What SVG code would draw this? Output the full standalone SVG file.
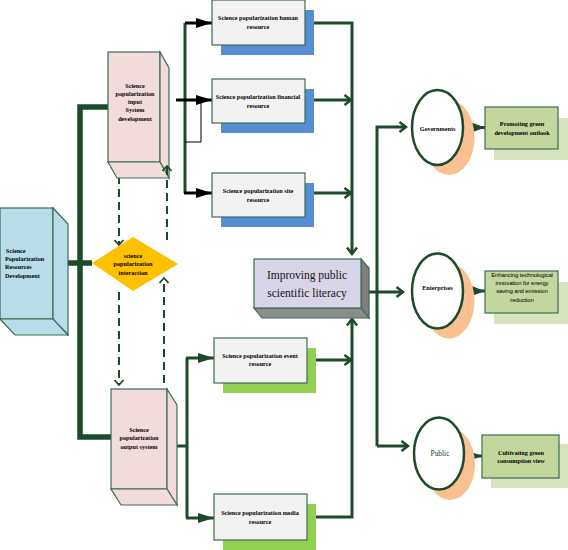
<svg xmlns="http://www.w3.org/2000/svg" width="568" height="550" viewBox="0 0 568 550">
<style>
.t{font-family:"Liberation Serif","Times New Roman",serif;font-weight:bold;font-size:6.2px;fill:#000;text-anchor:middle}
.tl{text-anchor:start}
.s{font-family:"Liberation Sans",Arial,sans-serif;font-size:6px;fill:#000;text-anchor:middle;letter-spacing:-0.15px}
.big{font-family:"Liberation Serif","Times New Roman",serif;font-size:11.5px;fill:#111;text-anchor:middle}
.edge{stroke:#3d6b55;stroke-width:1.2}
.line{fill:none;stroke:#1d4a2a;stroke-width:3}
.thick{fill:none;stroke:#1d4a2a;stroke-width:5.5}
.blk{fill:none;stroke:#000;stroke-width:3}
.dash{fill:none;stroke:#1d4a2a;stroke-width:2;stroke-dasharray:8 5}
.ell{fill:#fff;stroke:#1d4a2a;stroke-width:2.5}
.oshadow{fill:#fac090}
.gbox{fill:#c3d69b;stroke:#3d6b55;stroke-width:1.2}
.gshadow{fill:#d7e4bd}
.wbox{fill:#f2f2f2;stroke:#3d6b55;stroke-width:1.2}
</style>
<defs>
<marker id="triB" markerUnits="userSpaceOnUse" markerWidth="16" markerHeight="10" refX="16" refY="5" orient="auto"><path d="M0,0 L16,5 L0,10 z" fill="#000"/></marker>
<marker id="triG" markerUnits="userSpaceOnUse" markerWidth="16" markerHeight="10" refX="16" refY="5" orient="auto"><path d="M0,0 L16,5 L0,10 z" fill="#1d4a2a"/></marker>
<marker id="triG2" markerUnits="userSpaceOnUse" markerWidth="16" markerHeight="12" refX="16" refY="6" orient="auto"><path d="M0,0 L16,6 L0,12 z" fill="#1d4a2a"/></marker>
<marker id="chev" markerUnits="userSpaceOnUse" markerWidth="10" markerHeight="13" refX="8" refY="6.5" orient="auto"><path d="M1.5,1.5 L8,6.5 L1.5,11.5" fill="none" stroke="#1d4a2a" stroke-width="2.5"/></marker>
<marker id="chevS" markerUnits="userSpaceOnUse" markerWidth="8" markerHeight="11" refX="6" refY="5.5" orient="auto"><path d="M1,1 L6,5.5 L1,10" fill="none" stroke="#1d4a2a" stroke-width="1.8"/></marker>
</defs>
<rect width="568" height="550" fill="#fff"/>

<g id="connectors">
<path class="thick" d="M108,107 H80 V437 H111"/>
<path class="thick" d="M53,263 H92"/>
<path class="line" d="M185,23 V193"/>
<path class="blk" d="M185,23 H212" marker-end="url(#triB)"/>
<path class="blk" d="M176,100 H212" marker-end="url(#triB)"/>
<path class="blk" d="M184,193 H212" marker-end="url(#triB)"/>
<path d="M201,100 V142 H185" fill="none" stroke="#000" stroke-width="1"/>
<path class="line" d="M167,446 H187"/>
<path class="line" d="M187,358 V518"/>
<path class="line" d="M186,358 H214" marker-end="url(#triG)"/>
<path class="line" d="M186,518 H214" marker-end="url(#triG)"/>
<path class="line" d="M305,23 H352 V254" marker-end="url(#chev)"/>
<path class="line" d="M305,100 H351" marker-end="url(#chev)"/>
<path class="line" d="M305,193 H351" marker-end="url(#chev)"/>
<path class="line" d="M307,517 H352 V319" marker-end="url(#chev)"/>
<path class="line" d="M307,360 H351" marker-end="url(#chev)"/>
<path class="line" d="M361,292 H403" marker-end="url(#chev)"/>
<path class="line" d="M377,446 V127 H406" marker-end="url(#chev)"/>
<path class="line" d="M377,446 H408" marker-end="url(#chev)"/>
<path class="line" d="M463,127.5 H485" marker-end="url(#triG2)"/>
<path class="line" d="M463,291 H485" marker-end="url(#triG2)"/>
<path class="line" d="M464,456 H482" marker-end="url(#triG2)"/>
<path class="dash" d="M119,176 V245" marker-end="url(#chevS)"/>
<path class="dash" d="M119,292 V385" marker-end="url(#chevS)"/>
<path class="dash" d="M164,383 V278" marker-end="url(#chevS)"/>
</g>

<g id="resources-development">
<rect x="0" y="208" width="53" height="111" fill="#b7dde8" class="edge"/>
<polygon points="53,208 68,224 68,335 53,319" fill="#b7dde8" class="edge"/>
<polygon points="0,319 53,319 68,335 15,335" fill="#b7dde8" class="edge"/>
<text class="t tl" x="6" y="253">Science</text>
<text class="t tl" x="5" y="261">Popularization</text>
<text class="t tl" x="5" y="269">Resources</text>
<text class="t tl" x="5" y="278">Development</text>
</g>

<g id="input-system">
<rect x="108" y="52" width="52" height="110" fill="#f2dcdb" class="edge"/>
<polygon points="160,52 169,68 169,178 160,162" fill="#f2dcdb" class="edge"/>
<polygon points="108,162 160,162 169,178 117,178" fill="#f2dcdb" class="edge"/>
<text class="t" x="135" y="88">Science</text>
<text class="t" x="135" y="96">popularization</text>
<text class="t" x="135" y="104">input</text>
<text class="t" x="135" y="112">System</text>
<text class="t" x="135" y="121">development</text>
</g>

<g id="input-up-arrow">
<path class="dash" d="M167,240 V166" marker-end="url(#chevS)"/>
</g>

<g id="interaction">
<polygon points="92,263 133,237 178,264 133,291" fill="#ffc000"/>
<text class="t" x="133" y="258">science</text>
<text class="t" x="133" y="266">popularization</text>
<text class="t" x="133" y="275">interaction</text>
</g>

<g id="output-system">
<rect x="111" y="389" width="56" height="100" fill="#f2dcdb" class="edge"/>
<polygon points="167,389 177,405 177,505 167,489" fill="#f2dcdb" class="edge"/>
<polygon points="111,489 167,489 177,505 121,505" fill="#f2dcdb" class="edge"/>
<text class="t" x="139" y="432">Science</text>
<text class="t" x="139" y="440">popularization</text>
<text class="t" x="139" y="449">output system</text>
</g>

<g id="human-resource">
<rect x="221" y="10" width="93" height="45" fill="#558ed5"/>
<rect x="212" y="0" width="93" height="45" class="wbox"/>
<text class="t" x="258" y="20">Science popularization human</text>
<text class="t" x="258" y="29">resource</text>
</g>

<g id="financial-resource">
<rect x="221" y="89" width="93" height="44" fill="#558ed5"/>
<rect x="212" y="79" width="93" height="44" class="wbox"/>
<text class="t" x="258" y="99">Science popularization financial</text>
<text class="t" x="258" y="108">resource</text>
</g>

<g id="site-resource">
<rect x="221" y="183" width="93" height="44" fill="#558ed5"/>
<rect x="212" y="173" width="93" height="44" class="wbox"/>
<text class="t" x="258" y="193">Science popularization site</text>
<text class="t" x="258" y="202">resource</text>
</g>

<g id="event-resource">
<rect x="223" y="348" width="93" height="45" fill="#92d050"/>
<rect x="214" y="338" width="93" height="45" class="wbox"/>
<text class="t" x="260" y="358">Science popularization event</text>
<text class="t" x="260" y="366">resource</text>
</g>

<g id="media-resource">
<rect x="223" y="504" width="93" height="46" fill="#92d050"/>
<rect x="214" y="494" width="93" height="46" class="wbox"/>
<text class="t" x="260" y="515">Science popularization media</text>
<text class="t" x="260" y="524">resource</text>
</g>

<g id="improving-literacy">
<polygon points="361,259 369,268 369,318 361,308" fill="#7f7f7f" class="edge"/>
<polygon points="254,308 361,308 369,318 262,318" fill="#8c8c8c" class="edge"/>
<rect x="254" y="259" width="107" height="49" fill="#d9d5e8" class="edge"/>
<text class="big" x="307" y="279">Improving public</text>
<text class="big" x="307" y="297">scientific literacy</text>
</g>

<g id="governments">
<ellipse cx="449" cy="137.5" rx="25.5" ry="37.5" class="oshadow"/>
<ellipse cx="437.5" cy="127.5" rx="25.5" ry="37.5" class="ell"/>
<text class="t" x="437.5" y="131">Governments</text>
</g>

<g id="enterprises">
<ellipse cx="449" cy="301" rx="25.5" ry="37.5" class="oshadow"/>
<ellipse cx="437.5" cy="291" rx="25.5" ry="37.5" class="ell"/>
<text class="t" x="437.5" y="289.5">Enterprises</text>
</g>

<g id="public">
<ellipse cx="450" cy="464" rx="25" ry="36" class="oshadow"/>
<ellipse cx="439" cy="453.5" rx="25" ry="36" class="ell"/>
<text x="440" y="456" font-family="'Liberation Serif','Times New Roman',serif" font-size="7.4px" fill="#1d3a26" text-anchor="middle">Public</text>
</g>

<g id="green-outlook">
<rect x="494" y="118" width="74" height="42" class="gshadow"/>
<rect x="485" y="107" width="73" height="42" class="gbox"/>
<text class="t" x="522" y="126">Promoting green</text>
<text class="t" x="522" y="135">development outlook</text>
</g>

<g id="tech-innovation">
<rect x="494" y="282" width="74" height="42" class="gshadow"/>
<rect x="485" y="271" width="73" height="42" class="gbox"/>
<text class="s" x="522" y="277">Enhancing technological</text>
<text class="s" x="522" y="285">innovation for energy</text>
<text class="s" x="522" y="293">saving and emission</text>
<text class="s" x="522" y="302">reduction</text>
</g>

<g id="green-consumption">
<rect x="491" y="444" width="77" height="44" class="gshadow"/>
<rect x="482" y="435" width="77" height="43" class="gbox"/>
<text class="t" x="521" y="455">Cultivating green</text>
<text class="t" x="521" y="463">consumption view</text>
</g>
</svg>
